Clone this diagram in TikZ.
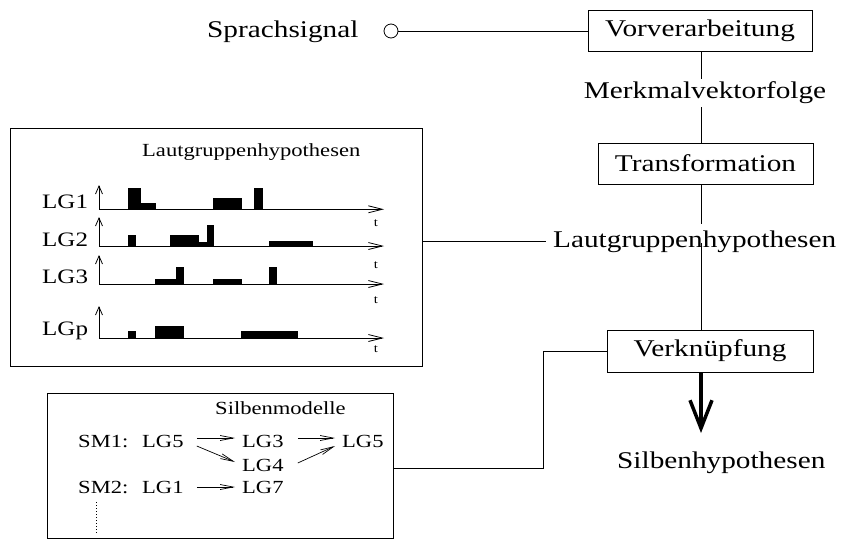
\documentclass[tikz,border=0pt]{standalone}
\usepackage{fontspec}
\setmainfont{Liberation Serif}[FakeStretch=1.22]
\usetikzlibrary{arrows.meta,calc}

\begin{document}
\begin{tikzpicture}[x=1pt,y=-1pt,
  big/.style={font=\fontsize{24}{28}\selectfont, inner sep=3pt},
  stage/.style={big, draw, line width=0.9pt},
  mid/.style={font=\fontsize{20.5}{24}\selectfont, inner sep=0pt},
  small/.style={font=\fontsize{18.5}{22}\selectfont, inner sep=0pt},
  tiny/.style={font=\fontsize{12}{14}\selectfont, inner sep=0pt},
  conn/.style={line width=0.8pt},
  yaxis/.style={line width=0.8pt, -{Straight Barb[length=8pt,width=7pt]}},
  xaxis/.style={line width=0.8pt, -{Straight Barb[length=14pt,width=7pt]}},
  smarrow/.style={line width=0.7pt, -{Straight Barb[length=13pt,width=5pt]}},
  result/.style={line width=3.5pt, -{Straight Barb[length=28pt,width=22pt,line width=3.5pt]}}]

\useasboundingbox (0,0) rectangle (843,539);

% vertical spine of the processing chain
\coordinate (spine) at (701,0);

% processing stages
\node[stage, minimum width=224pt, minimum height=41pt] (pre) at (700,30.5) {Vorverarbeitung};
\node[big] (merk) at (705,93) {Merkmalvektorfolge};
\node[stage, minimum width=215pt, minimum height=41pt] (tr) at (705.5,163.5) {Transformation};
\node[big, anchor=base west] (lgh) at (550,247) {Lautgruppenhypothesen};
\node[stage, minimum width=206pt, minimum height=42pt] (vk) at (710,351) {Verknüpfung};
\node[big, anchor=base west] (sh) at (614,468) {Silbenhypothesen};
\coordinate (tip) at (701,433);

% speech input
\node[big, anchor=base west] (sig) at (204,37) {Sprachsignal};
\node[draw, circle, line width=0.8pt, minimum size=14pt, inner sep=0pt] (src) at (391,31) {};
\draw[conn] (src.east) -- (src.east -| pre.west);

% chain connections
\draw[conn] (pre.south -| spine) -- (merk.north -| spine);
\draw[conn] (merk.south -| spine) -- (tr.north -| spine);
\draw[conn] (tr.south -| spine) -- ($(lgh.north -| spine)+(0,-3)$);
\draw[conn] ($(lgh.base -| spine)+(0,-4)$) -- (vk.north -| spine);
\draw[result] (vk.south -| spine) -- (tip);

% panel: sound group hypotheses over time
\node[draw, line width=1pt, minimum width=412pt, minimum height=238pt, inner sep=0pt] (lgbox) at (216,247) {};
\node[small, anchor=base west] (lgtitle) at (142,156) {Lautgruppenhypothesen};
\draw[conn] (lgh.west -| lgbox.east) -- ($(lgh.west)+(-4,0)$);

\node[mid, anchor=base west] (lg1) at (42,208) {LG1};
\node[mid, anchor=base west] (lg2) at (42,246) {LG2};
\node[mid, anchor=base west] (lg3) at (42,283) {LG3};
\node[mid, anchor=base west] (lgp) at (42,335) {LGp};

% axes
\draw[yaxis] (99,209.3) -- (99,185);
\draw[xaxis] (99,209.3) -- (384,209.3);
\draw[yaxis] (99,246) -- (99,217);
\draw[xaxis] (99,246) -- (384,246);
\draw[yaxis] (99,284) -- (99,255);
\draw[xaxis] (99,284) -- (384,284);
\draw[yaxis] (99,338) -- (99,306);
\draw[xaxis] (99,338) -- (384,338);

\node[tiny] (t1) at (376,223) {t};
\node[tiny] (t2) at (376,265) {t};
\node[tiny] (t3) at (376,300) {t};
\node[tiny] (t4) at (376,349) {t};

% activity bars
\fill (128,209.3) rectangle (141,188);
\fill (141,209.3) rectangle (156,203);
\fill (213,209.3) rectangle (242,198);
\fill (254,209.3) rectangle (263,188);

\fill (128,246) rectangle (136,235);
\fill (170,246) rectangle (199,235);
\fill (199,246) rectangle (207,242);
\fill (207,246) rectangle (214,225);
\fill (269,246) rectangle (313,241);

\fill (155,284) rectangle (176,279);
\fill (176,284) rectangle (184,267);
\fill (213,284) rectangle (242,279);
\fill (269,284) rectangle (277,267);

\fill (128,338) rectangle (136,331);
\fill (155,338) rectangle (184,326);
\fill (241,338) rectangle (298,331);

% panel: syllable models
\node[draw, line width=1pt, minimum width=346pt, minimum height=145pt, inner sep=0pt] (smbox) at (220,465.5) {};
\node[small, anchor=base west] (smtitle) at (215,414) {Silbenmodelle};

\node[small, anchor=base west] (s1) at (78,447) {SM1:};
\node[small, anchor=base west] (a1) at (142,447) {LG5};
\node[small, anchor=base west] (a2) at (242,447) {LG3};
\node[small, anchor=base west] (a3) at (342,447) {LG5};
\node[small, anchor=base west] (a4) at (242,471) {LG4};
\node[small, anchor=base west] (s2) at (78,493) {SM2:};
\node[small, anchor=base west] (b1) at (142,493) {LG1};
\node[small, anchor=base west] (b2) at (242,493) {LG7};

\draw[smarrow] ($(a1.base east)+(13,-9)$) -- ($(a2.base west)+(-7,-9)$);
\draw[smarrow] ($(a2.base east)+(14,-9)$) -- ($(a3.base west)+(-7,-9)$);
\draw[smarrow] ($(a1.base east)+(13,-1)$) -- ($(a4.base west)+(-7,-9)$);
\draw[smarrow] ($(a4.base east)+(14,-8)$) -- ($(a3.base west)+(-7,-1)$);
\draw[smarrow] ($(b1.base east)+(13,-6)$) -- ($(b2.base west)+(-7,-6)$);
\draw[line width=0.8pt, dash pattern=on 1pt off 2pt] ($(s2.base west)+(18,9)$) -- ++(0,32);

% feed of syllable models into the combination stage
\coordinate (elbow) at (543,468);
\draw[conn] (vk.west) -| (elbow) -- (elbow -| smbox.east);

\end{tikzpicture}
\end{document}
